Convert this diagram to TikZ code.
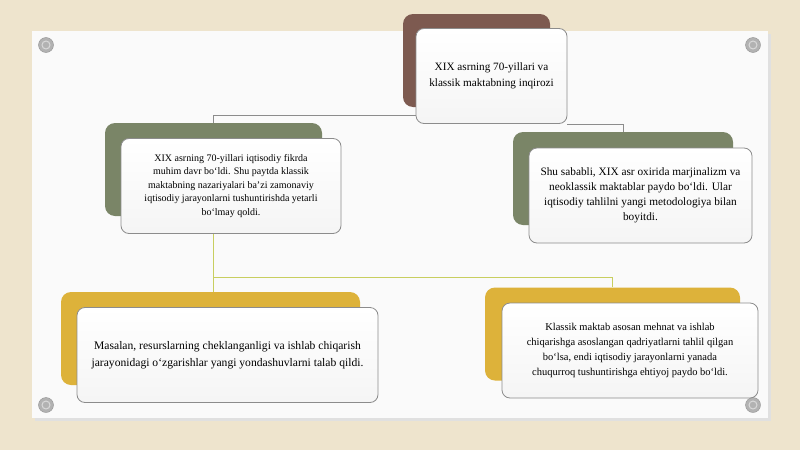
\documentclass[tikz,border=0pt]{standalone}
\usepackage{fontspec}
\setmainfont{Liberation Serif}
\pgfdeclarelayer{background}
\pgfdeclarelayer{lines}
\pgfsetlayers{background,lines,main}
\definecolor{paper}{RGB}{238,228,205}
\definecolor{brownbox}{RGB}{125,90,80}
\definecolor{greenbox}{RGB}{122,133,103}
\definecolor{yellowbox}{RGB}{221,178,58}
\definecolor{linkgray}{RGB}{140,140,140}
\definecolor{linkyellow}{RGB}{200,206,95}
\begin{document}
\begin{tikzpicture}[x=1pt,y=-1pt,
	back node/.style={rounded corners=10pt,minimum width=#1,minimum height=93pt},
	text node/.style={rounded corners=8pt,draw=linkgray,line width=0.8pt,top color=white,bottom color=black!4,
		minimum width=#1,minimum height=95pt,align=center,inner sep=2pt},
	pin/.style={circle,fill=gray!60,draw=gray!85,minimum size=15pt,inner sep=0pt},
	link/.style={draw=linkgray,line width=0.8pt},
	leaf link/.style={draw=linkyellow,line width=1pt}]
	\useasboundingbox (0,0) rectangle (800,450);
	\begin{pgfonlayer}{background}
		\fill[paper] (0,0) rectangle (800,450);
		\fill[black!12] (35,34) rectangle (771,421);
		\fill[white!98!black] (32,31) rectangle (768,418);
	\end{pgfonlayer}
	
	\node[pin] at (46,45) (p1) {};
	\node[pin] at (753,45) (p2) {};
	\node[pin] at (46,405) (p3) {};
	\node[pin] at (753,405) (p4) {};
	\foreach \p in {p1,p2,p3,p4}{
		\draw[gray!30,line width=1pt] (\p) circle (4pt);
	}
	
	\node[back node=147pt,fill=brownbox] at (476.5,60.5) (tback) {};
	\node[text node=151pt,font=\fontsize{11.2}{16.5}\selectfont] at (491.5,76) (top)
		{XIX asrning 70-yillari va\\klassik maktabning inqirozi};
	
	\node[back node=217pt,fill=greenbox] at (213.5,169.5) (lback) {};
	\node[text node=220pt,font=\fontsize{10}{13.5}\selectfont] at (231,186) (left)
		{XIX asrning 70-yillari iqtisodiy fikrda\\muhim davr bo‘ldi. Shu paytda klassik\\maktabning nazariyalari ba’zi zamonaviy\\iqtisodiy jarayonlarni tushuntirishda yetarli\\bo‘lmay qoldi.};
	
	\node[back node=220pt,fill=greenbox] at (623,178.5) (rback) {};
	\node[text node=223pt,font=\fontsize{11.3}{15}\selectfont] at (640.5,195.5) (right)
		{Shu sababli, XIX asr oxirida marjinalizm va\\neoklassik maktablar paydo bo‘ldi. Ular\\iqtisodiy tahlilni yangi metodologiya bilan\\boyitdi.};
	
	\node[back node=299pt,fill=yellowbox] at (210.5,338.5) (lyback) {};
	\node[text node=301pt,font=\fontsize{11.6}{17}\selectfont] at (227.5,355) (lyellow)
		{Masalan, resurslarning cheklanganligi va ishlab chiqarish\\jarayonidagi o‘zgarishlar yangi yondashuvlarni talab qildi.};
	
	\node[back node=255pt,fill=yellowbox] at (612.5,334) (ryback) {};
	\node[text node=256pt,font=\fontsize{10.5}{15}\selectfont] at (630,350.5) (ryellow)
		{Klassik maktab asosan mehnat va ishlab\\chiqarishga asoslangan qadriyatlarni tahlil qilgan\\bo‘lsa, endi iqtisodiy jarayonlarni yanada\\chuqurroq tushuntirishga ehtiyoj paydo bo‘ldi.};
	
	\coordinate (split) at (lback.south |- 0,277);
	\begin{pgfonlayer}{lines}
		\path[link] ([yshift=9pt]top.south west) -| (lback.north);
		\path[link] (top.south east) -| (rback.north);
		\path[leaf link] (lback.south) -- (lback.south |- lyback.north);
		\path[leaf link] (split) -| (ryback.north);
	\end{pgfonlayer}
	
\end{tikzpicture}
\end{document}
